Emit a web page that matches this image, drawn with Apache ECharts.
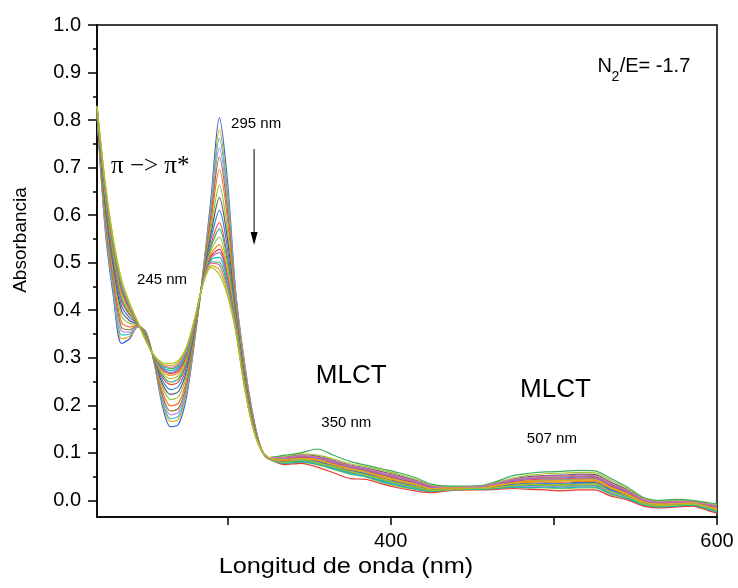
<!DOCTYPE html>
<html>
<head>
<meta charset="utf-8">
<script src="https://cdn.jsdelivr.net/npm/echarts@6/dist/echarts.min.js"></script>
<style>
html,body{margin:0;padding:0;background:#fff;}
#chart{width:738px;height:588px;}
</style>
</head>
<body>
<div id="chart"></div>
<script>
// Wavelength grid (nm)
const wavelengths = [220,225,230,235,240,245,250,255,260,265,270,275,280,285,290,295,300,305,310,315,320,325,335,345,355,365,375,385,395,405,415,425,435,445,455,465,475,485,495,505,515,525,535,545,555,565,575,585,595,600];

// Absorbance spectra (first = initial, last = final)
const s01 = [0.81,0.57,0.43,0.33,0.34,0.365,0.355,0.29,0.20,0.155,0.16,0.22,0.34,0.48,0.64,0.805,0.67,0.44,0.30,0.19,0.115,0.088, .083,.087,.082,.073,.063,.057,.047,.039,.031,.023,.024,.025,.026,.029,.034,.036,.037,.036,.038,.038,.023,.011,-.005,-.01,-.008,-.007,-.015,-.019];
const s02 = [0.815,0.58,0.44,0.34,0.345,0.366,0.353,0.29,0.207,0.166,0.171,0.228,0.344,0.478,0.628,0.78,0.651,0.433,0.296,0.188,0.115,0.087, .081,.085,.080,.070,.060,.054,.044,.036,.028,.021,.023,.024,.025,.027,.032,.033,.033,.032,.034,.034,.019,.008,-.007,-.011,-.009,-.008,-.016,-.021];
const s03 = [0.813,0.583,0.446,0.348,0.35,0.366,0.352,0.292,0.212,0.172,0.178,0.234,0.346,0.477,0.62,0.762,0.639,0.429,0.293,0.186,0.114,0.089, .086,.090,.086,.077,.067,.061,.052,.044,.035,.026,.025,.026,.027,.032,.038,.041,.043,.043,.045,.044,.029,.015,-.002,-.007,-.005,-.005,-.013,-.016];
const s04 = [0.814,0.589,0.453,0.356,0.354,0.367,0.351,0.293,0.217,0.18,0.186,0.24,0.349,0.475,0.611,0.742,0.624,0.424,0.29,0.184,0.114,0.088, .079,.082,.077,.067,.058,.052,.040,.032,.026,.019,.022,.023,.024,.026,.029,.029,.030,.028,.030,.030,.016,.006,-.008,-.013,-.011,-.009,-.018,-.023];
const s05 = [0.815,0.595,0.46,0.364,0.359,0.368,0.35,0.294,0.222,0.188,0.194,0.246,0.351,0.474,0.602,0.722,0.61,0.419,0.286,0.182,0.114,0.089, .089,.093,.090,.082,.071,.066,.056,.049,.040,.029,.027,.028,.028,.035,.042,.046,.049,.049,.051,.050,.034,.019,.001,-.005,-.003,-.003,-.010,-.013];
const s06 = [0.817,0.603,0.47,0.375,0.365,0.368,0.348,0.295,0.23,0.199,0.205,0.255,0.355,0.472,0.59,0.696,0.591,0.412,0.282,0.18,0.113,0.088, .085,.089,.085,.076,.066,.060,.050,.042,.034,.025,.025,.026,.026,.031,.037,.040,.041,.041,.043,.042,.027,.014,-.003,-.008,-.006,-.006,-.013,-.017];
const s07 = [0.819,0.613,0.482,0.388,0.372,0.369,0.346,0.296,0.239,0.212,0.218,0.265,0.359,0.469,0.575,0.663,0.567,0.403,0.276,0.177,0.113,0.089, .077,.080,.075,.065,.055,.049,.037,.029,.023,.018,.021,.022,.023,.024,.027,.026,.026,.024,.026,.026,.012,.003,-.010,-.014,-.012,-.011,-.020,-.025];
const s08 = [0.82,0.621,0.491,0.399,0.378,0.37,0.345,0.298,0.246,0.223,0.229,0.274,0.363,0.467,0.564,0.637,0.548,0.397,0.272,0.175,0.112,0.089, .091,.096,.093,.084,.074,.068,.060,.052,.042,.030,.028,.029,.029,.037,.045,.050,.052,.053,.055,.054,.038,.022,.003,-.003,-.001,-.002,-.008,-.011];
const s09 = [0.822,0.629,0.501,0.41,0.384,0.371,0.343,0.299,0.253,0.233,0.24,0.282,0.367,0.465,0.552,0.61,0.528,0.39,0.268,0.172,0.112,0.089, .082,.086,.081,.072,.062,.056,.045,.037,.030,.022,.023,.025,.025,.028,.033,.034,.035,.034,.036,.036,.021,.010,-.006,-.010,-.008,-.008,-.016,-.020];
const s10 = [0.823,0.637,0.51,0.42,0.39,0.372,0.342,0.3,0.26,0.244,0.25,0.29,0.37,0.463,0.54,0.584,0.509,0.383,0.263,0.17,0.112,0.089, .087,.091,.088,.079,.069,.063,.053,.045,.037,.027,.026,.027,.027,.033,.040,.043,.045,.045,.047,.046,.030,.017,-.001,-.006,-.004,-.005,-.012,-.015];
const s11 = [0.824,0.641,0.515,0.426,0.393,0.372,0.341,0.301,0.264,0.249,0.256,0.295,0.372,0.462,0.534,0.571,0.5,0.38,0.261,0.169,0.111,0.089, .080,.083,.079,.069,.059,.053,.042,.034,.027,.020,.022,.024,.024,.027,.030,.031,.032,.030,.032,.032,.018,.007,-.008,-.012,-.010,-.009,-.017,-.022];
const s12 = [0.825,0.646,0.521,0.433,0.397,0.373,0.34,0.301,0.268,0.256,0.263,0.3,0.374,0.461,0.526,0.554,0.488,0.375,0.258,0.167,0.111,0.09, .093,.098,.095,.087,.077,.071,.063,.055,.045,.032,.029,.029,.030,.038,.047,.053,.056,.057,.059,.058,.042,.025,.004,-.002,.000,-.001,-.007,-.009];
const s13 = [0.826,0.651,0.527,0.439,0.401,0.373,0.339,0.302,0.273,0.263,0.269,0.305,0.376,0.46,0.519,0.538,0.476,0.371,0.255,0.166,0.111,0.09, .084,.088,.084,.075,.065,.059,.048,.040,.033,.024,.024,.026,.026,.030,.036,.038,.039,.038,.040,.040,.025,.012,-.004,-.009,-.007,-.007,-.014,-.018];
const s14 = [0.827,0.654,0.531,0.443,0.403,0.373,0.338,0.303,0.276,0.267,0.273,0.308,0.378,0.459,0.514,0.528,0.468,0.369,0.254,0.165,0.111,0.09, .075,.078,.070,.058,.046,.044,.034,.026,.020,.016,.020,.022,.022,.023,.025,.023,.022,.020,.022,.022,.009,.001,-.012,-.016,-.014,-.012,-.022,-.027];
const s15 = [0.827,0.656,0.533,0.446,0.405,0.374,0.338,0.303,0.277,0.269,0.276,0.31,0.379,0.459,0.511,0.521,0.464,0.367,0.253,0.164,0.111,0.09, .088,.092,.089,.080,.070,.064,.055,.047,.038,.028,.027,.027,.028,.034,.041,.045,.047,.047,.049,.048,.032,.018,.000,-.006,-.004,-.004,-.011,-.014];
const s16 = [0.828,0.659,0.537,0.45,0.407,0.374,0.337,0.303,0.28,0.273,0.28,0.313,0.38,0.458,0.506,0.511,0.456,0.364,0.251,0.163,0.11,0.09, .078,.081,.076,.066,.056,.050,.039,.031,.024,.019,.021,.023,.023,.025,.028,.027,.028,.026,.028,.028,.014,.004,-.009,-.014,-.012,-.010,-.019,-.024];
const s17 = [0.828,0.662,0.54,0.454,0.409,0.374,0.337,0.304,0.283,0.277,0.284,0.317,0.381,0.457,0.502,0.501,0.449,0.362,0.249,0.162,0.11,0.09, .095,.100,.108,.095,.082,.074,.066,.058,.048,.034,.030,.030,.031,.040,.052,.057,.060,.061,.063,.062,.046,.028,.006,.000,.002,.000,-.005,-.007];
const s18 = [0.829,0.664,0.543,0.457,0.41,0.374,0.336,0.304,0.285,0.28,0.287,0.319,0.382,0.457,0.499,0.495,0.444,0.36,0.248,0.162,0.11,0.09, .090,.094,.091,.083,.073,.067,.058,.050,.041,.030,.027,.028,.029,.036,.044,.048,.051,.051,.053,.052,.036,.021,.002,-.004,-.002,-.003,-.009,-.012];
const s19 = [0.829,0.667,0.546,0.461,0.413,0.375,0.336,0.305,0.287,0.284,0.291,0.322,0.384,0.456,0.494,0.485,0.437,0.358,0.247,0.161,0.11,0.09, .086,.088,.086,.075,.067,.059,.051,.041,.034,.025,.026,.026,.026,.032,.036,.041,.040,.042,.042,.043,.027,.013,-.003,-.008,-.007,-.005,-.014,-.017];
const s20 = [0.83,0.67,0.55,0.465,0.415,0.375,0.335,0.305,0.29,0.288,0.295,0.325,0.385,0.455,0.49,0.475,0.43,0.355,0.245,0.16,0.11,0.09, .080,.086,.079,.071,.061,.053,.045,.035,.029,.021,.022,.024,.025,.027,.031,.034,.032,.033,.033,.035,.018,.009,-.007,-.011,-.010,-.008,-.016,-.021];

const spectra = [s01,s02,s03,s04,s05,s06,s07,s08,s09,s10,s11,s12,s13,s14,s15,s16,s17,s18,s19,s20];

// Tick values
const xTickValues = [300,400,500,600];
const xLabelValues = [400,600];
const yMajorTicks = [0,0.1,0.2,0.3,0.4,0.5,0.6,0.7,0.8,0.9,1.0];
const yMinorTicks = [0.05,0.15,0.25,0.35,0.45,0.55,0.65,0.75,0.85,0.95];

const colors = ['#3366cc','#e8a317','#27c4d6','#c585e8','#8a7f2e','#ff6a2a','#8cc63f','#5a5a6e','#3a7be0','#e8473b',
                '#39b37a','#a8c12f','#f08c1a','#e83a3a','#9a68d0','#1fb5b5','#3cae5c','#d96fb5','#d9b21a','#a4c424'];

const chart = echarts.init(document.getElementById('chart'), null, {renderer:'canvas'});
const FONT = 'Liberation Sans, Arial, sans-serif';

const series = spectra.map((s, i) => ({
  type: 'line',
  name: 'spectrum ' + (i+1),
  data: wavelengths.map((w, j) => [w, s[j]]),
  showSymbol: false,
  smooth: 0.3,
  lineStyle: {width: 1.2, color: colors[i]},
  itemStyle: {color: colors[i]},
  xAxisIndex: 0,
  yAxisIndex: 0,
  z: 2
}));

chart.setOption({
  animation: false,
  backgroundColor: '#fff',
  grid: {left: 97, right: 21, top: 25, bottom: 71, show: true, borderColor: '#000', borderWidth: 1.5, backgroundColor: 'transparent'},
  xAxis: [{
    type: 'value', min: 220, max: 600,
    axisLine: {show: true, onZero: false, lineStyle: {color: '#000', width: 1.5}},
    axisTick: {show: true, customValues: xTickValues, length: 8, inside: false, lineStyle: {color: '#000', width: 1.5}},
    axisLabel: {show: true, customValues: xLabelValues, fontSize: 20, color: '#000', fontFamily: FONT, margin: 14},
    splitLine: {show: false}
  }],
  yAxis: [{
    type: 'value', min: -0.035, max: 1.0,
    axisLine: {show: true, onZero: false, lineStyle: {color: '#000', width: 1.5}},
    axisTick: {show: true, customValues: yMajorTicks, length: 9, inside: false, lineStyle: {color: '#000', width: 1.5}},
    axisLabel: {show: true, customValues: yMajorTicks, fontSize: 20, color: '#000', fontFamily: FONT, margin: 16,
      formatter: v => v.toFixed(1)},
    splitLine: {show: false}
  }, {
    type: 'value', min: -0.035, max: 1.0, position: 'left', offset: 0,
    axisLine: {show: false, onZero: false},
    axisTick: {show: true, customValues: yMinorTicks, length: 4, inside: false, lineStyle: {color: '#000', width: 1.5}},
    axisLabel: {show: false},
    splitLine: {show: false}
  }],
  series: series
});

// Annotations placed in data coordinates
function P(x, y) { return chart.convertToPixel({gridIndex: 0}, [x, y]); }
const g = [];
function txt(x, y, text, size, opts) {
  const p = P(x, y);
  g.push(Object.assign({
    type: 'text', x: p[0], y: p[1], z: 100,
    style: Object.assign({text: text, fontSize: size, fontFamily: FONT, fill: '#000', align: 'center', verticalAlign: 'middle'}, (opts && opts.style) || {})
  }, (opts && opts.el) || {}));
}
txt(228.6, 0.703, 'π −> π*', 25, {style: {align: 'left', fontFamily: 'Liberation Serif, Times New Roman, serif'}});
txt(302.2, 0.793, '295 nm', 15, {style: {align: 'left'}});
txt(259.9, 0.463, '245 nm', 15);
txt(375.8, 0.263, 'MLCT', 26);
txt(372.8, 0.162, '350 nm', 15);
txt(501.0, 0.232, 'MLCT', 26);
txt(498.8, 0.129, '507 nm', 15);

// N2/E= -1.7
const nb = P(526.7, 0.891);
g.push({type: 'text', x: nb[0], y: nb[1], z: 100, style: {text: 'N', fontSize: 20, fontFamily: FONT, fill: '#000', align: 'left', verticalAlign: 'bottom'}});
g.push({type: 'text', x: nb[0] + 14.2, y: nb[1] + 7, z: 100, style: {text: '2', fontSize: 14, fontFamily: FONT, fill: '#000', align: 'left', verticalAlign: 'bottom'}});
g.push({type: 'text', x: nb[0] + 22.3, y: nb[1], z: 100, style: {text: '/E= -1.7', fontSize: 20, fontFamily: FONT, fill: '#000', align: 'left', verticalAlign: 'bottom'}});

// Arrow
const a0 = P(316.3, 0.739), a1 = P(316.3, 0.537);
g.push({type: 'line', z: 100, shape: {x1: a0[0], y1: a0[1], x2: a1[0], y2: a1[1] - 12}, style: {stroke: '#555', lineWidth: 1.5}});
g.push({type: 'polygon', z: 100, shape: {points: [[a1[0], a1[1]], [a1[0] - 3.5, a1[1] - 13], [a1[0] + 3.5, a1[1] - 13]]}, style: {fill: '#000'}});

// Axis titles
g.push({type: 'text', x: 407, y: 567, z: 100, scaleX: 1.15, originX: 407, originY: 567,
  style: {text: 'Longitud de onda (nm)', fontSize: 22, fontFamily: FONT, fill: '#000', align: 'center', verticalAlign: 'middle'}});
g.push({type: 'text', x: 21, y: 240, z: 100, rotation: Math.PI / 2,
  style: {text: 'Absorbancia', fontSize: 19, fontFamily: FONT, fill: '#000', align: 'center', verticalAlign: 'middle'}});

chart.setOption({graphic: g});
</script>
</body>
</html>
